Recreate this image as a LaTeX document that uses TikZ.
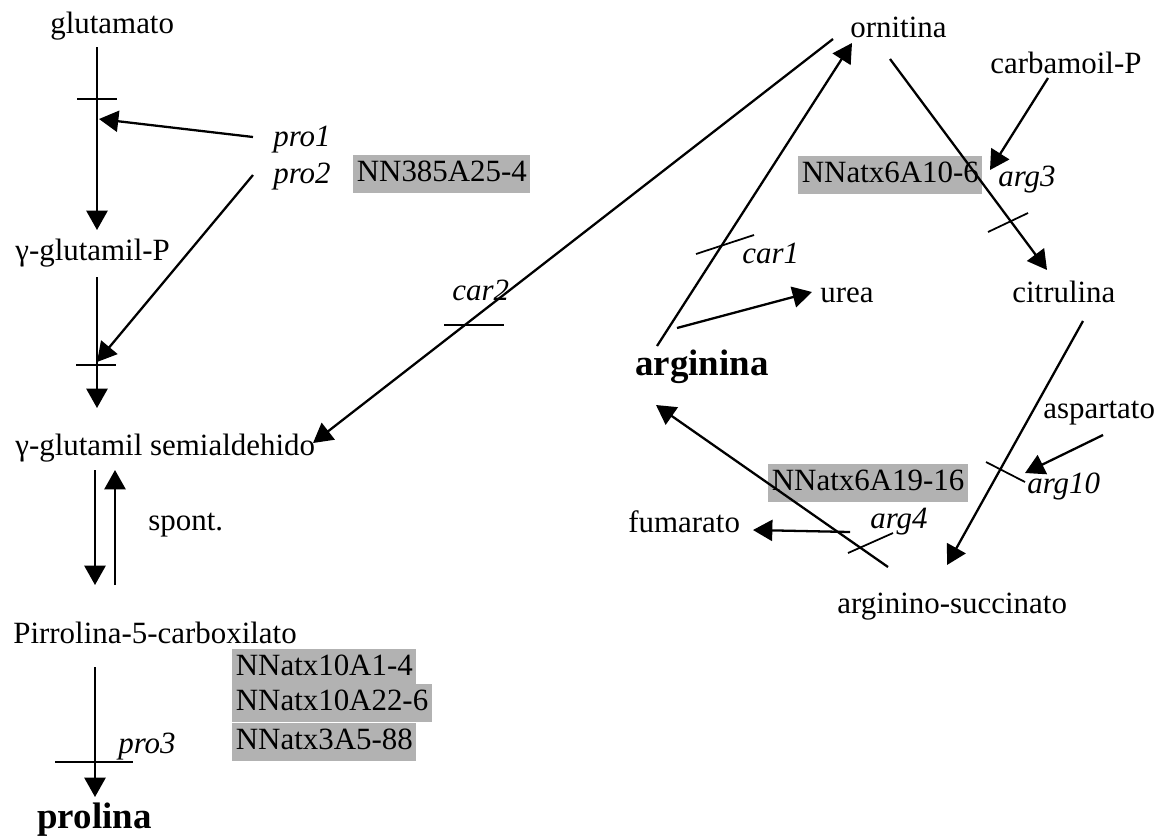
\documentclass[tikz,border=0pt]{standalone}
\usepackage{fontspec}
\setmainfont{Liberation Serif}
\usetikzlibrary{arrows.meta,calc}
\begin{document}
\begin{tikzpicture}[x=0.02cm,y=-0.02cm,
  lbl/.style={inner sep=0pt, anchor=base west, font=\fontsize{17.6}{20}\selectfont},
  ital/.style={lbl, font=\fontsize{17.6}{20}\selectfont\itshape},
  bld/.style={lbl, font=\fontsize{21}{24}\selectfont\bfseries},
  shade/.style={fill=black!30, inner xsep=2pt, inner ysep=1pt, anchor=west, font=\fontsize{17.6}{20}\selectfont},
  arr/.style={line width=1.3pt, -{Triangle[length=11pt,width=12pt]}},
  bar/.style={line width=1pt}]
\useasboundingbox (0,0) rectangle (1165,839);

% ---- proline branch ----
\node[lbl] (glu) at (50,33) {glutamato};
\node[ital] (pro1) at (273,146) {pro1};
\node[ital] (pro2) at (273,183) {pro2};
\node[shade] (nn1) at (353,174) {\strut NN385A25-4};
\node[lbl] (gp) at (15,260) {γ-glutamil-P};
\node[ital] (car2) at (452,300) {car2};
\node[lbl] (gsa) at (15,455) {γ-glutamil semialdehido};
\node[lbl] (spont) at (148,530) {spont.};
\node[lbl] (p5c) at (13,643) {Pirrolina-5-carboxilato};
\node[shade] (nn2) at (232,668) {\strut NNatx10A1-4};
\node[shade] (nn3) at (232,703) {\strut NNatx10A22-6};
\node[shade] (nn4) at (232,742) {\strut NNatx3A5-88};
\node[ital] (pro3) at (118,753) {pro3};
\node[bld] (pro) at (37,828) {prolina};

% ---- arginine branch ----
\node[lbl] (orn) at (850,37) {ornitina};
\node[lbl] (carb) at (990,73) {carbamoil-P};
\node[shade] (nn5) at (798,175) {\strut NNatx6A10-6};
\node[ital] (arg3) at (998,186) {arg3};
\node[ital] (car1) at (742,263) {car1};
\node[lbl] (urea) at (820,302) {urea};
\node[lbl] (cit) at (1012,302) {citrulina};
\node[bld] (argn) at (635,375) {arginina};
\node[lbl] (asp) at (1043,418) {aspartato};
\node[shade] (nn6) at (768,483) {\strut NNatx6A19-16};
\node[ital] (arg10) at (1027,493) {arg10};
\node[lbl] (fum) at (628,532) {fumarato};
\node[ital] (arg4) at (870,528) {arg4};
\node[lbl] (as) at (837,613) {arginino-succinato};

% ---- connectors ----
\draw[arr] ($(glu.base west)+(47,14)$) -- ($(gp.base west)+(82,-30)$);
\draw[arr] ($(pro1.base west)+(-20,-9)$) -- ($(glu.base west)+(49,86)$);
\draw[arr] ($(pro2.base west)+(-20,-8)$) -- ($(gsa.base west)+(82,-93)$);
\draw[arr] ($(gp.base west)+(82,17)$) -- ($(gsa.base west)+(82,-47)$);
\draw[arr] ($(orn.base west)+(-17,2)$) -- ($(gsa.base west)+(298,-12)$);
\draw[arr] ($(gsa.base west)+(80,15)$) -- ($(p5c.base west)+(82,-58)$);
\draw[arr] ($(p5c.base west)+(102,-58)$) -- ($(gsa.base west)+(100,15)$);
\draw[arr] ($(p5c.base west)+(82,24)$) -- ($(pro.base west)+(58,-31)$);

\draw[arr] ($(argn.base west)+(22,-29)$) -- ($(orn.base west)+(2,6)$);
\draw[arr] ($(argn.base west)+(42,-47)$) -- ($(urea.base west)+(-8,-10)$);
\draw[arr] ($(orn.base west)+(40,22)$) -- ($(cit.base west)+(35,-32)$);
\draw[arr] ($(carb.base west)+(58,5)$) -- ($(arg3.base west)+(-8,-16)$);
\draw[arr] ($(cit.base west)+(71,19)$) -- ($(as.base west)+(110,-48)$);
\draw[arr] ($(asp.base west)+(60,17)$) -- ($(arg10.base west)+(-2,-20)$);
\draw[arr] ($(as.base west)+(51,-46)$) -- ($(argn.base west)+(21,30)$);
\draw[arr] ($(arg4.base west)+(-20,4)$) -- ($(fum.base west)+(125,-2)$);

% ---- bars ----
\draw[bar] (77,99) -- (117,99);
\draw[bar] (76,365) -- (116,365);
\draw[bar] (444,325) -- (504,325);
\draw[bar] (55,762) -- (133,762);
\draw[bar] (696,254) -- (754,235);
\draw[bar] (988,232) -- (1028,213);
\draw[bar] (986,462) -- (1025,482);
\draw[bar] (848,553) -- (893,533);
\end{tikzpicture}
\end{document}
